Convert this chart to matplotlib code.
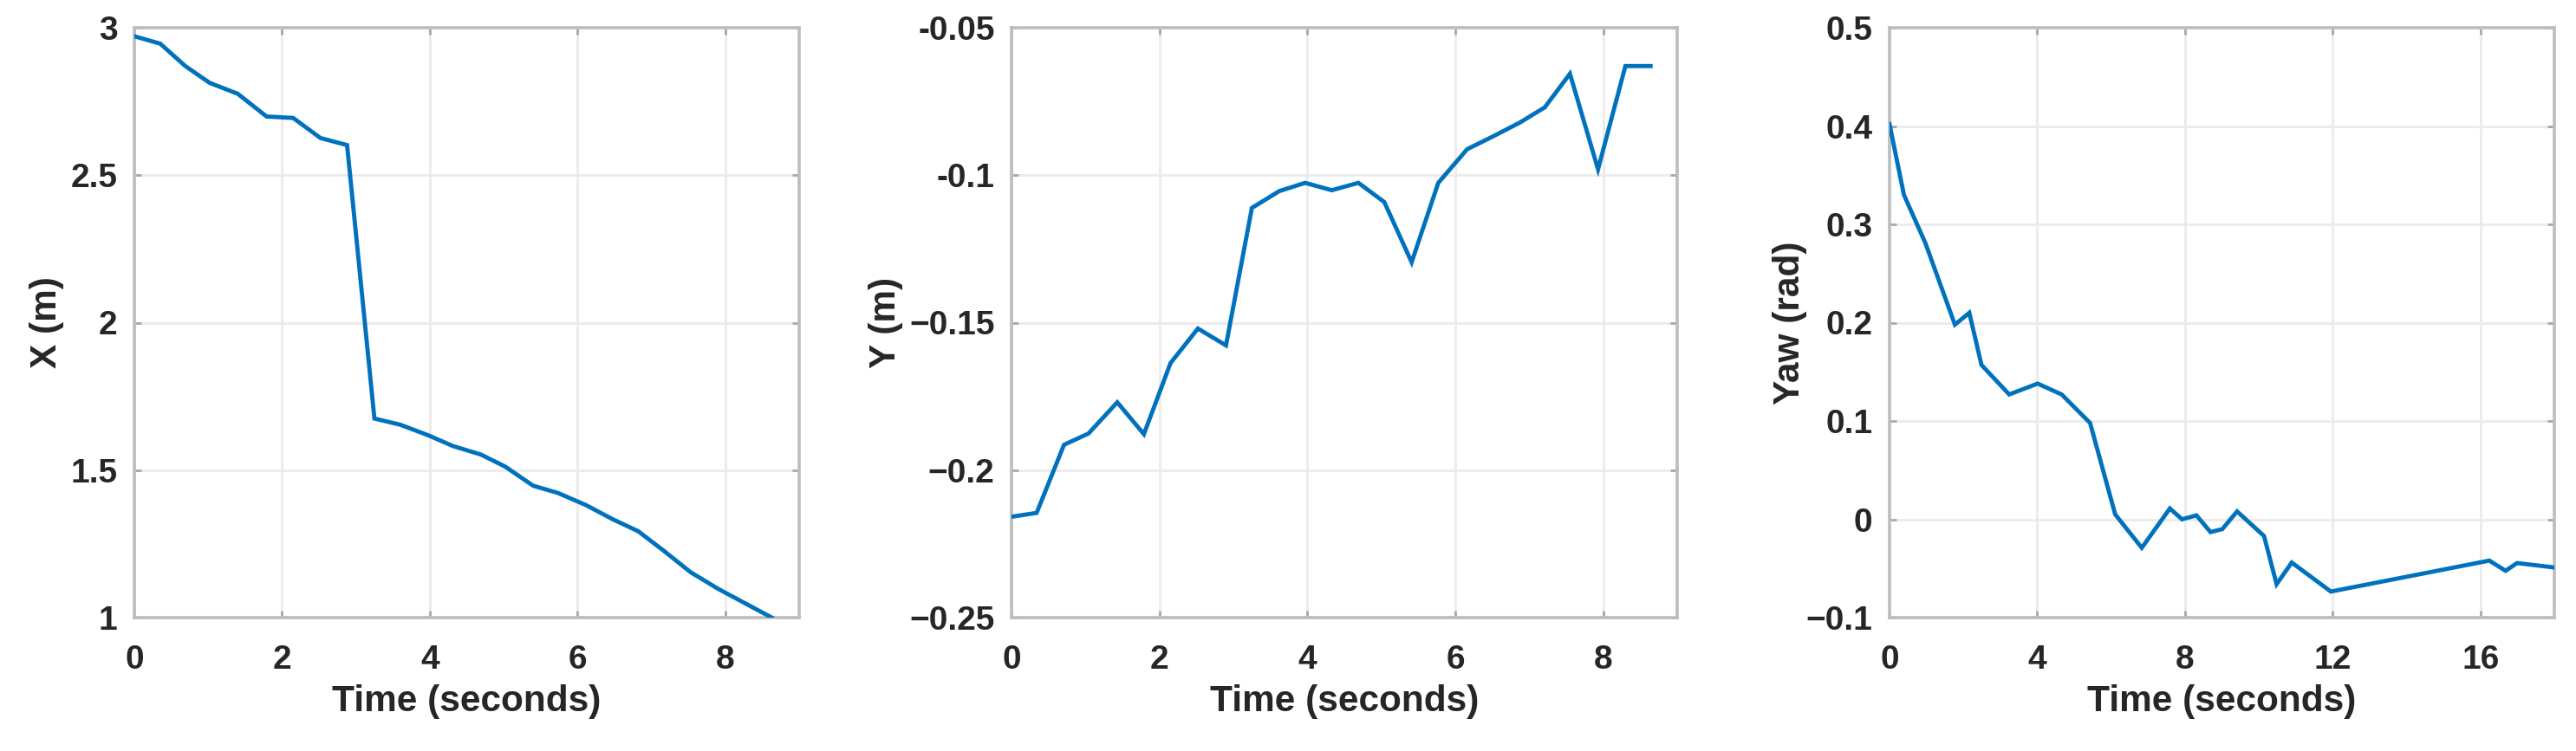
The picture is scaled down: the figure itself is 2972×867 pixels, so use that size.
import matplotlib
matplotlib.use("Agg")
import matplotlib.pyplot as plt

# ---- data ----
t_x = [0.0, 0.35, 0.69, 1.02, 1.40, 1.79, 2.15, 2.52, 2.88, 3.25, 3.60, 3.98,
       4.31, 4.69, 5.02, 5.40, 5.73, 6.11, 6.48, 6.82, 7.16, 7.53, 7.90, 8.63]
x_m = [2.971, 2.946, 2.870, 2.813, 2.776, 2.699, 2.694, 2.626, 2.602, 1.675,
       1.654, 1.618, 1.582, 1.553, 1.512, 1.447, 1.423, 1.382, 1.333, 1.293,
       1.228, 1.154, 1.098, 1.000]

t_y = [0.0, 0.34, 0.71, 1.04, 1.43, 1.79, 2.15, 2.52, 2.90, 3.25, 3.62, 3.97,
       4.33, 4.69, 5.04, 5.41, 5.77, 6.16, 6.49, 6.87, 7.21, 7.55, 7.93, 8.30, 8.64]
y_m = [-0.2158, -0.2145, -0.1914, -0.1876, -0.1770, -0.1878, -0.1637, -0.1520,
       -0.1577, -0.1111, -0.1054, -0.1026, -0.1051, -0.1026, -0.1091, -0.1295,
       -0.1026, -0.0912, -0.0871, -0.0822, -0.0770, -0.0656, -0.0980, -0.0630,
       -0.0630]

t_yaw = [0.0, 0.39, 0.97, 1.77, 2.16, 2.49, 3.24, 4.01, 4.66, 5.43, 6.11, 6.83,
         7.59, 7.92, 8.31, 8.69, 9.01, 9.41, 10.14, 10.48, 10.89, 11.95, 16.24,
         16.68, 16.99, 18.0]
yaw = [0.402, 0.330, 0.281, 0.198, 0.210, 0.157, 0.127, 0.138, 0.127, 0.098,
       0.005, -0.029, 0.011, 0.000, 0.004, -0.013, -0.010, 0.008, -0.017, -0.066,
       -0.044, -0.0735, -0.042, -0.0524, -0.0445, -0.049]

xlabel = "Time (seconds)"
ylabels = ["X (m)", "Y (m)", "Yaw (rad)"]

x_ticks_1 = [0, 2, 4, 6, 8]
x_ticks_3 = [0, 4, 8, 12, 16]
y_ticks_1 = [1, 1.5, 2, 2.5, 3]
y_tlabels_1 = ["1", "1.5", "2", "2.5", "3"]
y_ticks_2 = [-0.25, -0.2, -0.15, -0.1, -0.05]
y_tlabels_2 = ["\u22120.25", "\u22120.2", "\u22120.15", "-0.1", "-0.05"]
y_ticks_3 = [-0.1, 0, 0.1, 0.2, 0.3, 0.4, 0.5]
y_tlabels_3 = ["\u22120.1", "0", "0.1", "0.2", "0.3", "0.4", "0.5"]

# ---- style ----
plt.rcParams['font.family'] = ['Liberation Sans', 'DejaVu Sans']
plt.rcParams['font.weight'] = 'bold'

W, H = 2972, 867
fig = plt.figure(figsize=(W / 100, H / 100), dpi=100)

line_color = '#0072BD'
spine_color = '#BDBDBD'
text_color = '#262626'

axes_px = [(155, 922), (1167, 1935), (2180, 2947)]
top_px, bot_px = 32, 713
ylabel_offsets = [-101, -145, -115]

specs = [
    (t_x, x_m, (0, 9), (1, 3), x_ticks_1, y_ticks_1, y_tlabels_1),
    (t_y, y_m, (0, 9), (-0.25, -0.05), x_ticks_1, y_ticks_2, y_tlabels_2),
    (t_yaw, yaw, (0, 18), (-0.1, 0.5), x_ticks_3, y_ticks_3, y_tlabels_3),
]

for i, (tt, vv, xl, yl, xt, yt, ytl) in enumerate(specs):
    l, r = axes_px[i]
    ax = fig.add_axes([l / W, (H - bot_px) / H, (r - l) / W, (bot_px - top_px) / H])
    ax.plot(tt, vv, color=line_color, lw=3.5, solid_joinstyle='miter', zorder=3)
    ax.set_xlim(*xl)
    ax.set_ylim(*yl)
    ax.set_xticks(xt)
    ax.set_xticklabels([str(v) for v in xt])
    ax.set_yticks(yt)
    ax.set_yticklabels(ytl)
    ax.grid(True, color='#EBEBEB', lw=2.0, zorder=0)
    ax.set_axisbelow(True)
    for s in ax.spines.values():
        s.set_color(spine_color)
        s.set_linewidth(2.6)
    ax.tick_params(axis='both', which='both', direction='in', length=6, width=2,
                   color='#A8A8A8', top=True, right=True,
                   labelsize=28, labelcolor=text_color)
    ax.tick_params(axis='x', pad=22)
    ax.tick_params(axis='y', pad=14)
    for lab in ax.get_xticklabels() + ax.get_yticklabels():
        lab.set_fontweight('bold')
    ax.set_xlabel(xlabel, fontsize=30.5, fontweight='bold', color=text_color, va='center')
    ax.xaxis.set_label_coords(0.5, -97 / (bot_px - top_px))
    ax.set_ylabel(ylabels[i], fontsize=30.5, fontweight='bold', color=text_color, va='center')
    ax.yaxis.set_label_coords(ylabel_offsets[i] / (r - l), 0.5)

fig.savefig('out.png', dpi=100, facecolor='white')
